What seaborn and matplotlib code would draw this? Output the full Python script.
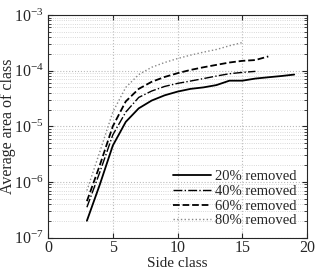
import numpy as np
import pandas as pd
import matplotlib
matplotlib.use("Agg")
import matplotlib.pyplot as plt
import seaborn as sns
from matplotlib.ticker import LogLocator, FixedLocator

sns.set_style("ticks")
plt.rcParams['font.family'] = ['Liberation Serif', 'DejaVu Serif']
plt.rcParams['mathtext.fontset'] = 'stix'

# average area per side class
side_20 = list(range(3, 20))
area_20 = [2e-7, 9e-7, 4.5e-6, 1.2e-5, 2.1e-5, 2.9e-5, 3.6e-5, 4.2e-5, 4.7e-5,
           5.0e-5, 5.5e-5, 6.6e-5, 6.6e-5, 7.2e-5, 7.6e-5, 8.0e-5, 8.5e-5]
side_40 = list(range(3, 17))
area_40 = [3.5e-7, 1.5e-6, 7e-6, 1.8e-5, 3.3e-5, 4.3e-5, 5.2e-5, 5.9e-5, 6.5e-5,
           7.2e-5, 8.0e-5, 8.8e-5, 9.3e-5, 9.7e-5]
side_60 = list(range(3, 18))
area_60 = [4.5e-7, 2e-6, 1e-5, 2.8e-5, 4.7e-5, 6.3e-5, 7.7e-5, 9e-5, 1.03e-4,
           1.15e-4, 1.27e-4, 1.4e-4, 1.5e-4, 1.55e-4, 1.8e-4]
side_80 = list(range(3, 16))
area_80 = [7e-7, 3.5e-6, 1.8e-5, 5e-5, 8.5e-5, 1.15e-4, 1.4e-4, 1.65e-4, 1.9e-4,
           2.15e-4, 2.4e-4, 2.8e-4, 3.2e-4]

labels = ["20% removed", "40% removed", "60% removed", "80% removed"]

fig = plt.figure(figsize=(3.16, 2.73), dpi=100)
ax = fig.add_axes([0.152, 0.13, 0.82, 0.815])

series = [(side_20, area_20, "-", "black", 1.3),
          (side_40, area_40, "-.", "black", 1.0),
          (side_60, area_60, "--", "black", 1.3),
          (side_80, area_80, ":", "#888888", 1.0)]
for (xs, ys, ls, c, lw), lab in zip(series, labels):
    sns.lineplot(x=xs, y=ys, ax=ax, color=c, linestyle=ls, linewidth=lw, label=lab)

ax.set_yscale("log")
ax.set_xlim(0, 20)
ax.set_ylim(1e-7, 1e-3)
ax.xaxis.set_major_locator(FixedLocator([0, 5, 10, 15, 20]))
ax.yaxis.set_major_locator(LogLocator(base=10, numticks=10))
ax.yaxis.set_minor_locator(LogLocator(base=10, subs=np.arange(2, 10), numticks=10))
ax.grid(True, which="major", linestyle=":", color="#bbbbbb", linewidth=0.8)
ax.grid(True, which="minor", axis="y", linestyle=":", color="#cccccc", linewidth=0.6)
ax.tick_params(direction="in", which="both", top=True, right=True, labelsize=11.5, pad=3)
ax.tick_params(axis="x", pad=2)
ax.tick_params(which="minor", length=2)
for s in ax.spines.values():
    s.set_linewidth(0.8)

ax.set_xlabel("Side class", fontsize=11, labelpad=0.5)
ax.set_ylabel("Average area of class", fontsize=11.5)
ax.yaxis.set_label_coords(-0.125, 0.5)

ax.legend(loc="lower right", frameon=False, fontsize=10.5, handlelength=2.6,
          borderaxespad=0.3, labelspacing=0.1, handletextpad=0.3)

fig.savefig("out.png", dpi=100)
